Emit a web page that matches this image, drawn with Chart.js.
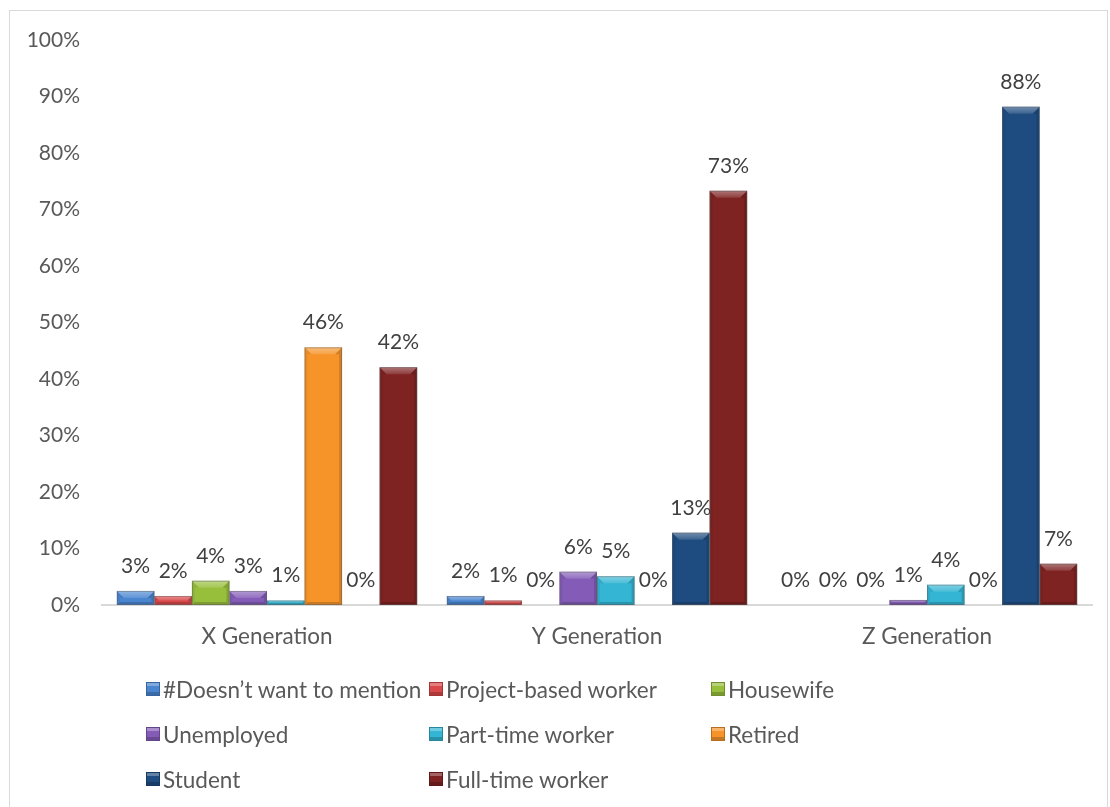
<!DOCTYPE html>
<html>
<head>
<meta charset="utf-8">
<script src="https://cdn.jsdelivr.net/npm/chart.js@4.4.1/dist/chart.umd.min.js"></script>
<style>
  html, body { margin: 0; padding: 0; background: #fff; }
  body { width: 1110px; height: 807px; position: relative; overflow: hidden; font-family: Lato, "Noto Sans", sans-serif; }
  #frame { position: absolute; left: 9px; top: 10px; width: 1099px; height: 800px; border: 1px solid #d9d9d9; box-sizing: border-box; }
  #wrap { position: absolute; left: 0; top: 0; width: 1110px; height: 807px; }
  #legend { position: absolute; left: 0; top: 0; width: 1110px; height: 807px; pointer-events: none; }
  .item { position: absolute; display: flex; align-items: center; font-size: 22.5px; color: #595959; white-space: nowrap; }
  .box { width: 14px; height: 14px; margin-right: 3px; box-sizing: border-box; border: 1px solid rgba(0,0,0,0.25);
         box-shadow: inset 0 3px 0 rgba(255,255,255,0.3), inset 0 -3px 0 rgba(0,0,0,0.2); }
</style>
</head>
<body>
<div id="frame"></div>
<div id="wrap"><canvas id="chart" width="1110" height="807"></canvas></div>
<div id="legend"></div>
<script>
// categories
const generations = ['X Generation', 'Y Generation', 'Z Generation'];

// share of each occupation per generation (%)
const doesntMention = [2.5, 1.6, 0];
const projectBased  = [1.6, 0.8, 0];
const housewife     = [4.3, 0, 0];
const unemployed    = [2.5, 5.9, 0.9];
const partTime      = [0.8, 5.1, 3.6];
const retired       = [45.6, 0, 0];
const student       = [0, 12.8, 88.2];
const fullTime      = [42.1, 73.3, 7.3];

const yTicks = [0, 10, 20, 30, 40, 50, 60, 70, 80, 90, 100];

const series = [
  ['#Doesn\u2019t want to mention', doesntMention, '#4a86d0'],
  ['Project-based worker', projectBased, '#d9484a'],
  ['Housewife', housewife, '#98bf3c'],
  ['Unemployed', unemployed, '#845cb8'],
  ['Part-time worker', partTime, '#33b5d3'],
  ['Retired', retired, '#f6942a'],
  ['Student', student, '#1e4c80'],
  ['Full-time worker', fullTime, '#7e2222']
];

const textColor = '#595959';
const fontFamily = 'Lato, "Noto Sans", sans-serif';

// bevel look on every bar: light top, darker sides and bottom
const bevel = {
  id: 'bevel',
  afterDatasetsDraw(chart) {
    const ctx = chart.ctx;
    chart.data.datasets.forEach((ds, i) => {
      const meta = chart.getDatasetMeta(i);
      meta.data.forEach(bar => {
        const top = Math.min(bar.y, bar.base), bottom = Math.max(bar.y, bar.base);
        const h = bottom - top;
        if (h < 1) return;
        const l = bar.x - bar.width / 2, r = bar.x + bar.width / 2;
        const b = Math.min(7, h / 2);
        const s = Math.min(3, h / 2);
        ctx.save();
        const poly = (pts, color) => {
          ctx.beginPath();
          ctx.moveTo(pts[0][0], pts[0][1]);
          pts.slice(1).forEach(p => ctx.lineTo(p[0], p[1]));
          ctx.closePath();
          ctx.fillStyle = color;
          ctx.fill();
        };
        const g = ctx.createLinearGradient(0, top, 0, top + b);
        g.addColorStop(0, 'rgba(255,255,255,0.38)');
        g.addColorStop(1, 'rgba(255,255,255,0.12)');
        poly([[l, top], [r, top], [r - b, top + b], [l + b, top + b]], g);
        poly([[l, top], [l + b, top + b], [l + s, top + b], [l + s, bottom - s], [l, bottom]], 'rgba(0,0,0,0.06)');
        poly([[r, top], [r - b, top + b], [r - s, top + b], [r - s, bottom - s], [r, bottom]], 'rgba(0,0,0,0.14)');
        poly([[l, bottom], [l + s, bottom - s], [r - s, bottom - s], [r, bottom]], 'rgba(0,0,0,0.18)');
        ctx.strokeStyle = 'rgba(90,90,90,0.45)';
        ctx.lineWidth = 1;
        ctx.strokeRect(l + 0.5, top + 0.5, r - l - 1, h - 1);
        ctx.restore();
      });
    });
  }
};

// percentage labels above the bars
const valueLabels = {
  id: 'valueLabels',
  afterDatasetsDraw(chart) {
    const ctx = chart.ctx;
    ctx.save();
    ctx.font = '21px ' + fontFamily;
    ctx.fillStyle = '#404040';
    ctx.textAlign = 'center';
    ctx.textBaseline = 'alphabetic';
    chart.data.datasets.forEach((ds, i) => {
      chart.getDatasetMeta(i).data.forEach((bar, j) => {
        const top = Math.min(bar.y, bar.base);
        ctx.fillText(Math.round(ds.data[j]) + '%', bar.x, top - 18);
      });
    });
    ctx.restore();
  }
};

const chart = new Chart(document.getElementById('chart'), {
  type: 'bar',
  data: {
    labels: generations,
    datasets: series.map(([label, data, color]) => ({
      label: label,
      data: data,
      backgroundColor: color,
      borderWidth: 0,
      barPercentage: 1,
      categoryPercentage: 0.91
    }))
  },
  options: {
    responsive: false,
    animation: false,
    layout: { padding: { left: 20, right: 18, top: 40, bottom: 150 } },
    plugins: {
      legend: { display: false },
      tooltip: { enabled: false }
    },
    scales: {
      x: {
        grid: { display: false, drawTicks: false },
        border: { display: true, color: '#d9d9d9', width: 2 },
        ticks: { color: textColor, font: { size: 22.5, family: fontFamily }, padding: 18 },
        afterFit: s => { s.height = 52; }
      },
      y: {
        min: 0,
        max: 100,
        afterBuildTicks: s => { s.ticks = yTicks.map(v => ({ value: v })); },
        grid: { display: false, drawTicks: false },
        border: { display: false },
        ticks: { color: textColor, font: { size: 21, family: fontFamily }, padding: 22, callback: v => v + '%' },
        afterFit: s => { s.width = 82; }
      }
    }
  },
  plugins: [bevel, valueLabels]
});

// legend laid out in three columns below the plot
const legendCols = [146, 429, 711];
const legendRows = [689, 734, 779];
const legend = document.getElementById('legend');
chart.data.datasets.forEach((ds, i) => {
  const item = document.createElement('div');
  item.className = 'item';
  item.style.left = legendCols[i % 3] + 'px';
  item.style.top = (legendRows[Math.floor(i / 3)] - 14) + 'px';
  item.style.height = '28px';
  const box = document.createElement('span');
  box.className = 'box';
  box.style.background = ds.backgroundColor;
  const txt = document.createElement('span');
  txt.textContent = ds.label;
  item.appendChild(box);
  item.appendChild(txt);
  legend.appendChild(item);
});
</script>
</body>
</html>
